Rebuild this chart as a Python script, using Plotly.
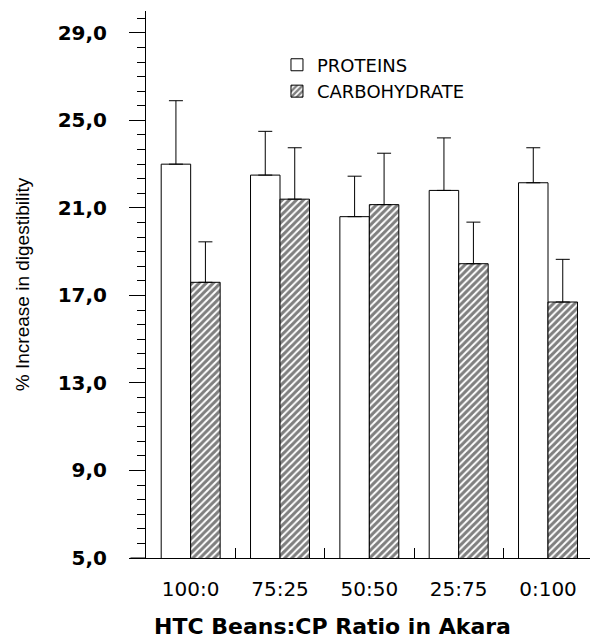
import plotly.graph_objects as go

categories = ["100:0", "75:25", "50:50", "25:75", "0:100"]
protein_vals = [23.0, 22.5, 20.6, 21.8, 22.15]
protein_err = [2.9, 2.0, 1.85, 2.4, 1.6]
carb_vals = [17.6, 21.4, 21.15, 18.45, 16.7]
carb_err = [1.85, 2.35, 2.35, 1.9, 1.95]
ytick_vals = [5, 9, 13, 17, 21, 25, 29]
ytick_text = ["5,0", "9,0", "13,0", "17,0", "21,0", "25,0", "29,0"]
x_title = "HTC Beans:CP Ratio in Akara"
y_title = "% Increase in digestibility"

err_style = dict(type="data", symmetric=False, color="black", thickness=1, width=7)

fig = go.Figure()
fig.add_trace(go.Bar(
    x=categories, y=protein_vals, name="PROTEINS",
    marker=dict(color="white", line=dict(color="black", width=1)),
    error_y=dict(array=protein_err, arrayminus=[0] * len(protein_err), **err_style),
))
fig.add_trace(go.Bar(
    x=categories, y=carb_vals, name="CARBOHYDRATE",
    marker=dict(color="white", line=dict(color="black", width=1),
                pattern=dict(shape="/", fgcolor="black", bgcolor="white", size=5, solidity=0.6)),
    error_y=dict(array=carb_err, arrayminus=[0] * len(carb_err), **err_style),
))

fig.update_layout(
    width=590, height=640,
    margin=dict(l=146, r=0, t=11, b=82),
    paper_bgcolor="white", plot_bgcolor="white",
    barmode="group", bargap=0.34, bargroupgap=0,
    font=dict(family="DejaVu Sans", color="black"),
    legend=dict(x=0.295, y=0.935, xanchor="left", yanchor="top",
                font=dict(family="DejaVu Sans", size=18, color="black"),
                bgcolor="rgba(0,0,0,0)", itemwidth=30),
    showlegend=True,
)
fig.update_xaxes(
    type="category", range=[-0.5, 4.47],
    showline=True, linecolor="black", linewidth=1,
    ticks="inside", tickson="boundaries", ticklen=10, tickcolor="black",
    tickfont=dict(family="DejaVu Sans", size=20, color="black"),
    ticklabelstandoff=13,
    showgrid=False, zeroline=False,
)
fig.update_yaxes(
    range=[5, 30],
    showline=True, linecolor="black", linewidth=1,
    tickvals=ytick_vals, ticktext=ytick_text,
    ticks="outside", ticklen=16, tickcolor="black",
    tickfont=dict(family="DejaVu Sans", size=20, color="black", weight="bold"),
    ticklabelstandoff=18,
    minor=dict(ticks="outside", ticklen=8, tick0=5, dtick=4 / 6, tickcolor="black"),
    showgrid=False, zeroline=False,
    title=dict(text=y_title,
               font=dict(family="Liberation Sans Narrow, Liberation Sans, sans-serif", size=19, color="black"),
               standoff=22),
)
fig.add_annotation(text=x_title, xref="paper", yref="paper", x=0.42, y=-0.126,
                   xanchor="center", yanchor="middle", showarrow=False,
                   font=dict(family="DejaVu Sans", size=22, color="black", weight="bold"))
fig.add_shape(type="line", xref="paper", yref="paper", x0=-0.035, x1=0, y0=0, y1=0,
              line=dict(color="black", width=1))

fig.write_html("out.html")
